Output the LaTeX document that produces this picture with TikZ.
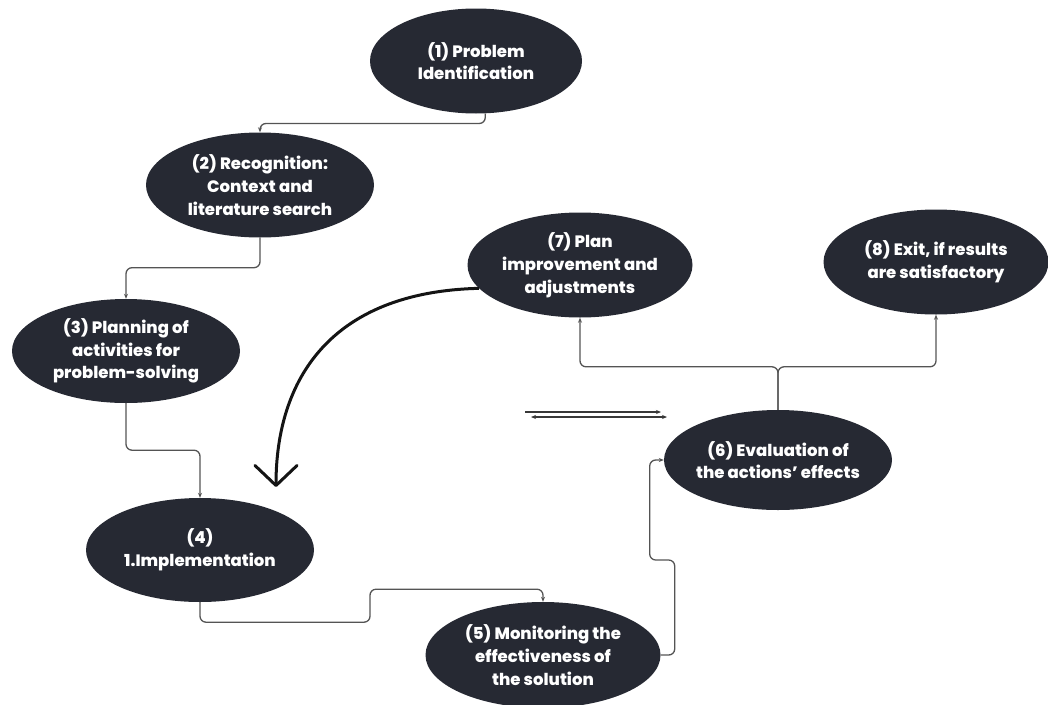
\documentclass[tikz,border=0pt]{standalone}
\usepackage{fontspec}
\setmainfont{Poppins}[BoldFont={* ExtraBold}]
\usetikzlibrary{shapes.geometric,arrows.meta}

\begin{document}
\begin{tikzpicture}[x=1pt,y=-1pt,
  stage/.style={ellipse,fill=kNavy,text=white,align=center,inner sep=-12pt,
    font=\bfseries\fontsize{16.5}{22.8}\selectfont,minimum width=228pt,minimum height=104pt},
  link/.style={draw=kGrey,line width=1.3pt,rounded corners=6pt,-{Stealth[length=5pt,width=4pt]}},
  loopback/.style={draw=kInk,line width=3pt,-{Straight Barb[length=20pt,width=42pt,round]}},
  pair/.style={draw=kInk!85,line width=1.6pt}]
  \definecolor{kNavy}{rgb}{0.15,0.16,0.20}
  \definecolor{kGrey}{rgb}{0.33,0.33,0.33}
  \definecolor{kInk}{rgb}{0.08,0.08,0.08}

  \useasboundingbox (0,0) rectangle (1048,704);

  % stages
  \node[stage,minimum width=212pt,minimum height=105pt] (prob) at (476,61) {(1) Problem\\Identification};
  \node[stage,minimum height=105pt] (recog) at (260,185) {(2) Recognition:\\Context and\\literature search};
  \node[stage] (plan) at (126,351) {(3) Planning of\\activities for\\problem-solving};
  \node[stage] (impl) at (200,550) {(4)\\1.Implementation};
  \node[stage,minimum width=235pt,minimum height=106pt] (monit) at (543,655) {(5) Monitoring the\\effectiveness of\\the solution};
  \node[stage,minimum height=100pt] (eval) at (778,460) {(6) Evaluation of\\the actions' effects};
  \node[stage,minimum width=225pt,minimum height=105pt] (improve) at (580,265) {(7) Plan\\improvement and\\adjustments};
  \node[stage,minimum width=225pt,minimum height=105pt] (exitn) at (936,262) {(8) Exit, if results\\are satisfactory};

  % links
  \draw[link] (prob.-80) -- ++(0,10) -| (recog.north);
  \draw[link] (recog.south) -- ++(0,30) -| (plan.north);
  \draw[link] (plan.south) -- ++(0,47) -| (impl.north);
  \draw[link] (impl.south) -- ++(0,20) -| ++(170,-33) -| (monit.north);
  \draw[link] (monit.east) -- ++(14,0) |- ++(-25,-95) |- (eval.west);
  \draw[link] (eval.north) -- ++(0,-43) -| (improve.south);
  \draw[link] (eval.north) -- ++(0,-43) -| (exitn.south);

  % loop back
  \coordinate (tip) at (276,487);
  \draw[loopback] (improve.193) .. controls (330,292) and (276,380) .. (tip);

  %% double arrows
  \coordinate (dA) at (525,412);
  \coordinate (dB) at (661,412);
  \coordinate (dC) at (531,417);
  \coordinate (dD) at (667,417);
  \draw[pair,-{Stealth[length=5pt,width=4pt]}] (dA) -- (dB);
  \draw[pair,{Stealth[length=5pt,width=4pt]}-{Stealth[length=5pt,width=4pt]}] (dC) -- (dD);
\end{tikzpicture}
\end{document}
